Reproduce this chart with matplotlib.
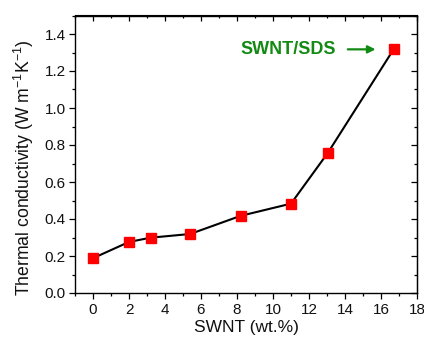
import matplotlib
matplotlib.use("Agg")
import matplotlib.pyplot as plt
from matplotlib.ticker import MultipleLocator

plt.rcParams['font.family'] = ['Liberation Sans', 'DejaVu Sans']
plt.rcParams['mathtext.fontset'] = 'custom'
plt.rcParams['mathtext.rm'] = 'Liberation Sans'

# data
swnt_wt = [0, 2.0, 3.2, 5.4, 8.2, 11.0, 13.05, 16.7]
conductivity = [0.188, 0.276, 0.299, 0.319, 0.417, 0.483, 0.758, 1.317]

fig = plt.figure(figsize=(4.24, 3.4), dpi=100)
ax = fig.add_axes([75/424, 1 - 293/340, (417 - 75)/424, (293 - 15.5)/340])

ax.plot(swnt_wt, conductivity, color='black', lw=1.5, marker='s',
        ms=6.5, mfc='#ff0000', mec='#ff0000', zorder=3)

ax.set_xlim(-1, 18)
ax.set_ylim(0, 1.5)
ax.xaxis.set_major_locator(MultipleLocator(2))
ax.xaxis.set_minor_locator(MultipleLocator(1))
ax.yaxis.set_major_locator(MultipleLocator(0.2))
ax.yaxis.set_minor_locator(MultipleLocator(0.1))
ax.yaxis.set_major_formatter(plt.FormatStrFormatter('%.1f'))

ax.tick_params(which='both', direction='out', labelsize=11, width=0.9,
               colors='black', labelcolor='#111111')
ax.tick_params(which='major', length=4)
ax.tick_params(which='minor', length=2.5)
ax.tick_params(axis='y', pad=2.5)
for sp in ax.spines.values():
    sp.set_linewidth(1.0)

# mirrored inward ticks on top/right
axt = ax.secondary_xaxis('top')
axt.xaxis.set_major_locator(MultipleLocator(2))
axt.xaxis.set_minor_locator(MultipleLocator(1))
axt.tick_params(which='both', direction='in', labeltop=False, width=0.9)
axt.tick_params(which='major', length=4)
axt.tick_params(which='minor', length=2.5)
axr = ax.secondary_yaxis('right')
axr.yaxis.set_major_locator(MultipleLocator(0.2))
axr.yaxis.set_minor_locator(MultipleLocator(0.1))
axr.tick_params(which='both', direction='in', labelright=False, width=0.9)
axr.tick_params(which='major', length=4)
axr.tick_params(which='minor', length=2.5)

ax.set_xlabel('SWNT (wt.%)', fontsize=12.5, color='#111111', va='center')
ax.xaxis.set_label_coords(0.5, -0.125)
ax.set_ylabel('Thermal conductivity (W m$^{\\mathregular{-1}}$K$^{\\mathregular{-1}}$)',
              fontsize=12.7, color='#111111', va='center')
ax.yaxis.set_label_coords(-0.15, 0.452)

ax.annotate('', xy=(15.85, 1.317), xytext=(14.0, 1.317),
            arrowprops=dict(arrowstyle='-|>', color='#138a13', lw=1.6,
                            mutation_scale=11))
ax.text(13.5, 1.317, 'SWNT/SDS', color='#138a13', fontsize=13,
        fontweight='bold', ha='right', va='center')

fig.savefig('out.png', dpi=100)
